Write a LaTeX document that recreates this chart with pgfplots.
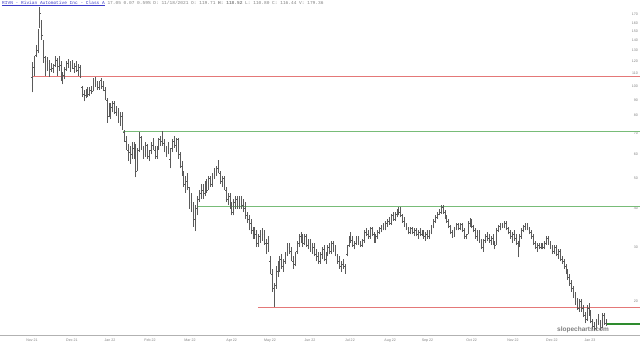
\documentclass[border=0pt]{standalone}
\usepackage{fontspec}
\setmainfont{Liberation Sans}
\newfontfamily\monof{Liberation Mono}
\usepackage{pgfplots}
\pgfplotsset{compat=1.18}
\usepackage{pgfplotstable}
\definecolor{barcol}{HTML}{5A5A5A}
\definecolor{lred}{HTML}{E47878}
\definecolor{lgreen}{HTML}{78BC78}
\definecolor{dgreen}{HTML}{2E8B2E}
\definecolor{lblgray}{HTML}{808080}
\definecolor{hblue}{HTML}{3A3AC8}
\pgfdeclareplotmark{openl}{\pgfpathmoveto{\pgfqpoint{-0.75pt}{0pt}}\pgfpathlineto{\pgfqpoint{0pt}{0pt}}\pgfusepathqstroke}
\pgfdeclareplotmark{closer}{\pgfpathmoveto{\pgfqpoint{0pt}{0pt}}\pgfpathlineto{\pgfqpoint{0.75pt}{0pt}}\pgfusepathqstroke}
\pgfplotstableread{
i o h l c
0 106.8 119.5 95.2 100.7
1 114.6 125.0 108.0 123.0
2 126.0 135.2 124.0 130.0
3 130.0 152.5 127.5 149.4
4 163.8 179.5 153.8 172.0
5 160.0 163.0 141.0 146.1
6 139.0 141.0 119.0 123.4
7 120 125 108 118
8 120 124 112 119
9 118 121 107 114
10 113 119 111 117
11 114 118 110 116
12 117 125 115 123
13 121 123 108 111
14 116 125 112 118
15 117 120 104 106
16 106 111 101 108
17 108 115 105 113
18 114 120 112 118
19 118 122 114 116
20 115 120 111 118
21 117 121 113 114
22 114 119 110 117
23 116 120 111 113
24 112 118 108 116
25 115 117 106 108
26 99 100 92 94
27 94 97 89 92
28 93 98 91 96
29 96 99 92 94
30 95 99 93 97
31 97 100 94 96
32 97 106 96 105
33 104 107 99 101
34 101 104 97 99
35 99 104 97 103
36 104 106 98 100
37 100 104 96 98
38 97 99 90 91
39 90 91 76 79
40 80 88 79 86
41 84 88 78 85
42 86 89 82 88
43 88 89 81 82
44 82 86 80 83
45 82 85 76 78
46 77 82 74 80
47 80 82 72 73
48 71 72 66 67
49 66 69 62 64
50 62 65 57 63
51 61 64 56 58
52 60 66 58 65
53 63 66 58 60
54 60 65 50.5 53
55 54 63 53 62
56 63 71 61 68
57 68 69 62 63
58 62 64 58 60
59 60 66 59 64
60 64 65 58 59
61 59 62 57 61
62 62 66 60 65
63 64 68 62 63
64 62 64 58 59
65 59 64 58 63
66 64 68 62 67
67 66 69 64 66
68 66 71.6 64 65
69 64 67 61 62
70 61 64 59 63
71 63 66 60 61
72 58 63 54 62
73 63 67 61 66
74 66 69 63 64
75 64 68 61 67
76 67 68 58 60
77 60 61 54 55
78 55 57 51 52
79 52 53 47 48
80 48 51 45 49
81 50 52 46 47
82 46 47 40 42
83 42 45 39 44
84 41 42 35 37
85 37 41 33.8 40
86 40 44 38 43
87 43 46 42 45
88 45 48 43 46
89 46 48 43 44
90 45 49 44 48
91 48 50 45 46
92 47 51 46 50
93 50 51 47 48
94 48 52 47 51
95 51 54 50 53
96 53 55 51 54
97 54 57.5 52 53
98 52 53 48 49
99 49 51 47 50
100 50 51 46 47
101 46 47 42 43
102 43 45 41 44
103 44 45 40 41
104 40 42 38 39
105 39 43 38 42
106 42 44 40 43
107 43 44 40 41
108 41 44 40 43
109 43 44 40 41
110 41 43 39 40
111 40 42 37 38
112 38 39 36 37
113 37 38 34 36
114 36 37 33 33.5
115 34 35 32 34
116 34 35 32 33
117 33 34 30 31
118 31 33 30 32.5
119 32 34 31 33
120 33 34.5 31.5 34
121 33 34 30.5 31
122 31 32 28.5 29
123 31 32.5 29 29.5
124 27 28 24.5 25.5
125 24.5 25.5 21.5 22.5
126 22 23 19.2 22
127 22.5 26 22 25.5
128 25 27 24 26.5
129 26 28 25 27.5
130 27 28.5 25.5 26
131 26 27.5 25 27
132 27 29 26.5 28.5
133 28.5 31 28 30
134 30 31 28.5 29
135 29 30 27 27.5
136 27 28 25.5 26.5
137 26.5 29 26 28.5
138 29 31.5 28.5 31
139 31 33 30 32.5
140 32.5 33.5 31 32
141 32 33 30 31
142 31 33 30.5 32.5
143 32 33 30 30.5
144 30.5 32 29.5 31.5
145 31 32 29 29.5
146 29.5 31 28.5 30.5
147 30 31 28 28.5
148 28.5 29.5 27 28
149 28 29 26.5 27
150 27 29 26.5 28.5
151 28.5 30 27.5 29.5
152 29.5 30.5 27 27.5
153 27.5 29 26.5 28.5
154 28.5 30.5 28 30
155 30 31 28.5 29
156 29 31.5 28.5 31
157 31 31.5 29 29.5
158 29.5 30.5 28 28.5
159 28 28.5 26.5 27
160 27 28 25.5 26
161 26 27 25 26.5
162 26.5 27.5 25.5 26
163 26 26.5 24.6 25.5
164 28.5 30.5 28 30
165 30.5 32.5 30 32
166 32 33.5 31 31.5
167 31.5 32.5 30 30.5
168 30.5 31.5 29.5 31
169 31 32.5 30.5 32
170 32 32.5 30.5 31
171 31 31.5 30 30.5
172 30.5 32 30 31.5
173 31.5 34 31 33.5
174 33.5 34.5 32.5 33
175 33 34 32 32.5
176 32.5 35 32 34.5
177 34.5 35 32.5 33
178 33 33.5 31 31.5
179 31.5 33 31 32.5
180 32.5 34 32 33.5
181 33.5 35 33 34.5
182 34.5 35.5 33.5 35
183 35 36 34 34.5
184 34.5 36.5 34 36
185 36 37 35 36.5
186 36.5 37.5 35.5 36
187 36 38.5 35.5 38
188 38 39 36.5 37
189 37 39 36.5 38.5
190 38.5 40 37.5 39.5
191 39.5 40.6 38 39
192 39 40.5 37.5 38
193 38 38.5 36 36.5
194 36.5 37.5 35 35.5
195 35.5 36 34 34.5
196 34.5 35 33 33.5
197 33.5 35 33 34.5
198 34.5 35 33 33.5
199 33.5 34.5 32.5 34
200 34 34.5 32.5 33
201 33 34 32 33.5
202 33.5 34.5 32.5 33
203 33 34 32.5 33.5
204 33.5 34 32 32.5
205 32.5 33.5 31.5 33
206 33 34 32 32.5
207 32.5 34 32 33.5
208 33.5 35.5 33 35
209 35 37 34.5 36.5
210 36.5 38 36 37.5
211 37.5 39 37 38.5
212 38.5 40 38 39
213 39 41 38.5 40.5
214 40.5 41 38.5 39
215 39 39.5 37 37.5
216 37.5 38 36 36.5
217 36.5 37 34.5 35
218 35 35.5 33 33.5
219 33.5 34 32.2 32.5
220 32.5 35 32.5 34.5
221 34.5 36 34 35.5
222 35.5 36 34 34.5
223 34.5 36 34 35.5
224 35.5 36 33.5 34
225 34 34.5 32 32.5
226 32.5 33 31.8 32.5
227 33 36.5 33 36
228 36 37.3 35 36.5
229 36.5 37 34.5 35
230 35 35.5 33.5 34
231 34 34.5 32 32.5
232 32.5 34 31.5 33.5
233 33.5 34 31 31.5
234 31.5 32 29.5 30
235 30 32 29 31.5
236 31.5 33 31 32.5
237 32.5 33.5 31.5 32
238 32 33 31 31.5
239 31.5 32.5 30.5 32
240 32 33 30.5 31
241 31 31.5 29.5 30.5
242 31 34.5 30.5 34
243 34 35.5 33.5 35
244 35 36 34 35.5
245 35.5 36 34.5 35
246 35 36.5 34.5 36
247 36 36.5 34 34.5
248 34.5 35 33 33.5
249 33.5 34 32 32.5
250 32.5 33.5 31 33
251 33 34 31.5 32
252 32 33 30.5 31
253 31 31.5 27.8 30.5
254 30.5 33 30 32.5
255 32.5 34.5 32 34
256 34 35.5 33.5 35
257 35 36 34 35.5
258 35.5 36 34 34.5
259 34.5 35 33 33.5
260 33.5 34 32 32.5
261 32.5 33 30.5 31
262 31 31.5 29.5 30
263 30 31 29 30.5
264 30.5 31 29.5 30
265 30 31 29.5 30.5
266 30.5 31 29.5 30
267 30 31.5 29.5 31
268 31 32.7 30.5 32
269 32 32.5 30.5 31
270 31 31.5 29.5 30
271 30 30.5 28.5 29
272 29 30.5 28.5 30
273 30 30.5 28 28.5
274 28.5 29.5 27.5 29
275 29 29.5 27 27.5
276 27.5 28 26.5 27
277 27 27.5 25.5 26
278 26 26.5 24.5 25
279 25 25.5 23.5 24
280 24 24.5 22.5 23
281 23 23.5 21.5 22
282 22 22.5 20.5 21
283 21 21.5 19.5 20
284 20 20.5 18.8 19.2
285 19 20.3 18.5 20
286 20 20.3 18.5 19
287 19 19.5 17.8 18
288 18 18.5 17 17.5
289 17.5 19.5 17.3 19
290 19 19.8 18 18.5
291 18.5 18.8 17 17.2
292 17 17.5 16.3 16.6
293 16.6 17.2 16 16.4
294 16.4 17.6 16.2 17.3
295 17.3 18.2 16.8 17
296 17 17.4 16.2 16.5
297 16.5 18.3 16.4 18
298 18 18.4 16.8 17.2
299 17 17.6 16.7 17.3
}\ohlc
\begin{document}
\begin{tikzpicture}
\useasboundingbox (0,0) rectangle (640pt,347pt);
\begin{axis}[
  at={(0pt,11.3pt)}, anchor=south west,
  scale only axis, width=640pt, height=335.7pt,
  xmin=-16.667, xmax=316.667,
  ymode=log, ymin=15.494, ymax=189.8,
  axis x line*=bottom, axis y line*=right,
  x axis line style={draw=black!30, line width=0.8pt, -},
  y axis line style={draw=none},
  major tick length=0pt, minor tick length=0pt,
  xtick={0,20.8,40.6,61.5,82.3,104,124,144.8,165.6,186.5,206,229,250.5,270.8,290.6},
  xticklabels={Nov 21,Dec 21,Jan 22,Feb 22,Mar 22,Apr 22,May 22,Jun 22,Jul 22,Aug 22,Sep 22,Oct 22,Nov 22,Dec 22,Jan 23},
  ytick={20,30,40,50,60,70,80,90,100,110,120,130,140,150,160,170},
  yticklabels={20,30,40,50,60,70,80,90,100,110,120,130,140,150,160,170},
  minor ytick={},
  xticklabel style={font=\fontsize{3.6}{4}\selectfont, text=lblgray, inner sep=0pt, anchor=north, yshift=-3pt},
  yticklabel style={font=\fontsize{3.6}{4}\selectfont, text=lblgray, inner sep=0pt, anchor=east, xshift=-2pt},
]
\addplot[lred, line width=0.9pt] coordinates {(0,107) (316.667,107)};
\addplot[lgreen, line width=0.9pt] coordinates {(47.5,71.4) (316.667,71.4)};
\addplot[lgreen, line width=0.9pt] coordinates {(86,40.8) (316.667,40.8)};
\addplot[lred, line width=0.9pt] coordinates {(117.7,19.1) (316.667,19.1)};
\addplot[dgreen, line width=1.6pt] coordinates {(299,16.9) (316.667,16.9)};
\addplot[draw=none, mark=none,
  error bars/.cd, y dir=plus, y explicit, error mark=none,
  error bar style={draw=barcol, line width=0.5pt}]
  table[x=i, y=l, y error expr=\thisrow{h}-\thisrow{l}] {\ohlc};
\addplot[draw=barcol, only marks, mark=openl, mark options={line width=0.45pt}] table[x=i, y=o] {\ohlc};
\addplot[draw=barcol, only marks, mark=closer, mark options={line width=0.45pt}] table[x=i, y=c] {\ohlc};
\end{axis}
\node[anchor=west, inner sep=0pt, font=\monof\fontsize{4.5}{5}\selectfont] at (2pt,343.5pt)
  {\textcolor{hblue}{\underline{RIVN - Rivian Automotive Inc - Class A}} \textcolor{lblgray}{17.05 0.07 0.59\% D: 11/18/2021 O: 119.71 \textbf{H: 118.52} L: 110.80 C: 116.44 V: 179.36}};
\node[anchor=west, inner sep=0pt, font=\bfseries\fontsize{6.5}{7}\selectfont, text=black!50] at (557pt,17pt) {slopecharts.com};
\end{tikzpicture}
\end{document}
